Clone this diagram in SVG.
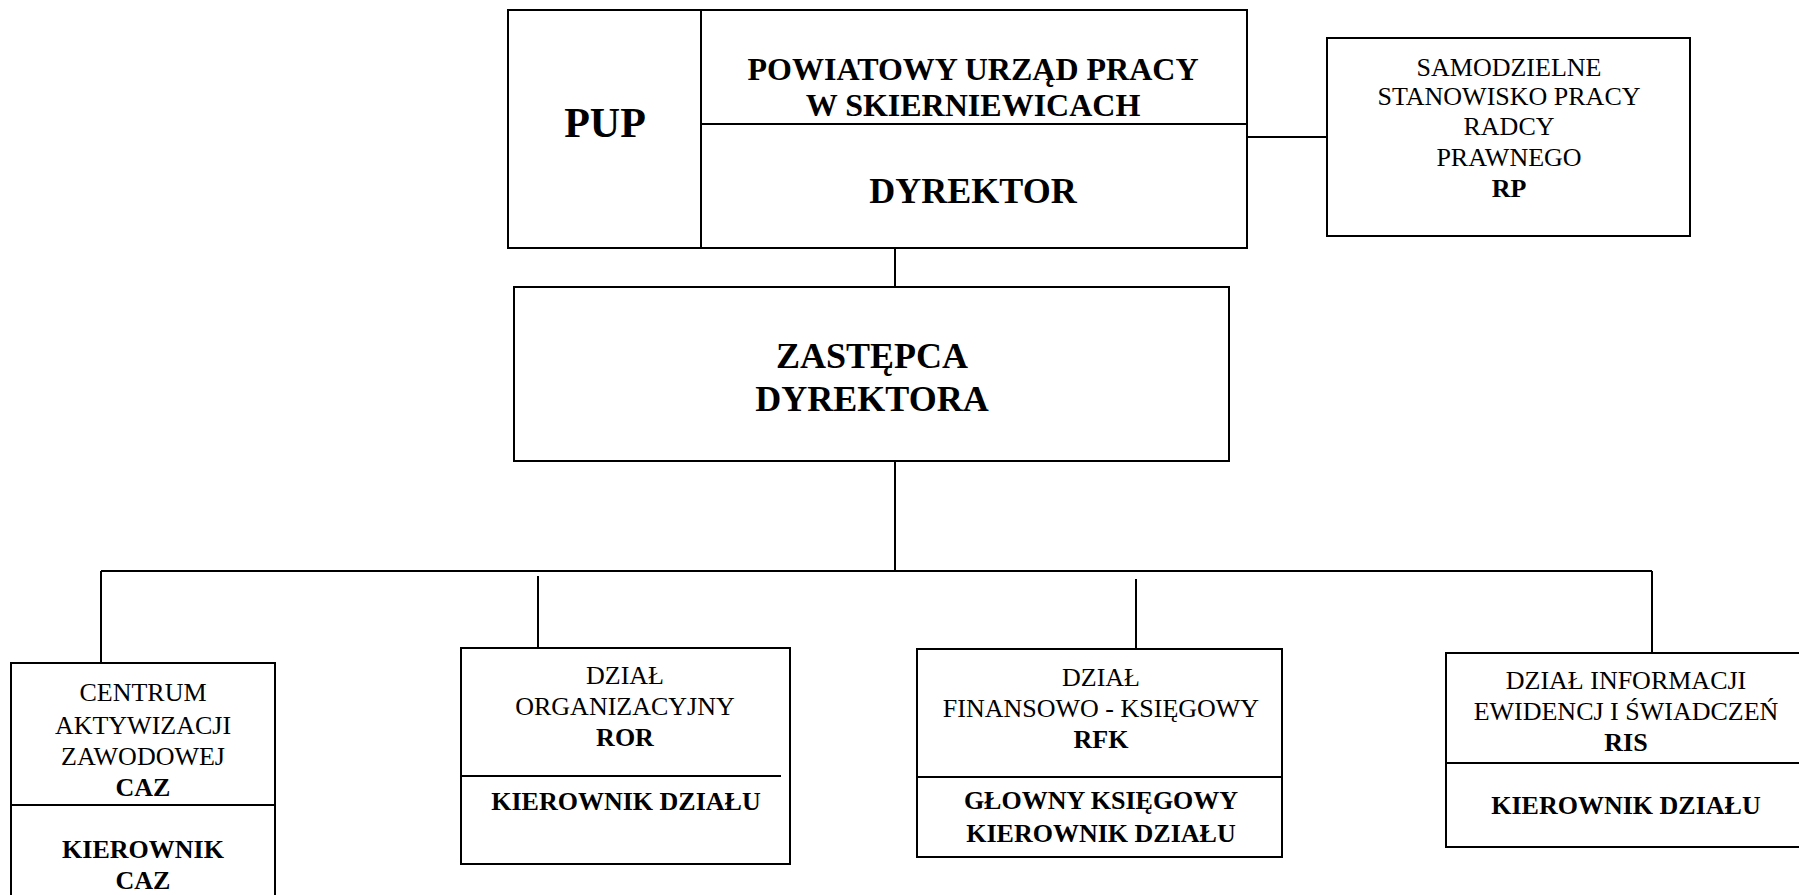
<svg xmlns="http://www.w3.org/2000/svg" width="1799" height="895" viewBox="0 0 1799 895">
<style>
.box{fill:#fff;stroke:#000;stroke-width:2}
.ln{fill:none;stroke:#000;stroke-width:2}
text{font-family:"Liberation Serif","Times New Roman",serif;fill:#000;text-anchor:middle}
.r{font-size:26px}
.b{font-size:26px;font-weight:bold}
.h{font-size:32px;font-weight:bold}
.d{font-size:36px;font-weight:bold}
</style>
<rect width="1799" height="895" fill="#fff"/>
<g id="connectors">
<line class="ln" x1="1247" y1="137" x2="1327" y2="137"/>
<line class="ln" x1="895" y1="248" x2="895" y2="287"/>
<line class="ln" x1="895" y1="461" x2="895" y2="571"/>
<line class="ln" x1="101" y1="571" x2="1652" y2="571"/>
<line class="ln" x1="101" y1="571" x2="101" y2="663"/>
<line class="ln" x1="538" y1="576" x2="538" y2="664"/>
<line class="ln" x1="1136" y1="579" x2="1136" y2="649"/>
<line class="ln" x1="1652" y1="571" x2="1652" y2="653"/>
</g>
<g id="pup">
<rect class="box" x="508" y="10" width="739" height="238"/>
<line class="ln" x1="701" y1="10" x2="701" y2="248"/>
<line class="ln" x1="701" y1="124" x2="1247" y2="124"/>
<text x="605" y="137" style="font-size:42px;font-weight:bold">PUP</text>
<text class="h" x="973" y="80">POWIATOWY URZĄD PRACY</text>
<text class="h" x="973" y="116">W SKIERNIEWICACH</text>
<text class="d" x="973" y="203">DYREKTOR</text>
</g>
<g id="rp">
<rect class="box" x="1327" y="38" width="363" height="198"/>
<text class="r" x="1509" y="76">SAMODZIELNE</text>
<text class="r" x="1509" y="105">STANOWISKO PRACY</text>
<text class="r" x="1509" y="135">RADCY</text>
<text class="r" x="1509" y="166">PRAWNEGO</text>
<text class="b" x="1509" y="197">RP</text>
</g>
<g id="zastepca">
<rect class="box" x="514" y="287" width="715" height="174"/>
<text class="d" x="872" y="368">ZASTĘPCA</text>
<text class="d" x="872" y="411">DYREKTORA</text>
</g>
<g id="caz">
<rect class="box" x="11" y="663" width="264" height="250"/>
<line class="ln" x1="11" y1="805" x2="275" y2="805"/>
<text class="r" x="143" y="701">CENTRUM</text>
<text class="r" x="143" y="734">AKTYWIZACJI</text>
<text class="r" x="143" y="765">ZAWODOWEJ</text>
<text class="b" x="143" y="796">CAZ</text>
<text class="b" x="143" y="858">KIEROWNIK</text>
<text class="b" x="143" y="889">CAZ</text>
</g>
<g id="ror">
<rect class="box" x="461" y="648" width="329" height="216"/>
<line class="ln" x1="461" y1="776" x2="781" y2="776"/>
<text class="r" x="625" y="684">DZIAŁ</text>
<text class="r" x="625" y="715">ORGANIZACYJNY</text>
<text class="b" x="625" y="746">ROR</text>
<text class="b" x="626" y="810">KIEROWNIK DZIAŁU</text>
</g>
<g id="rfk">
<rect class="box" x="917" y="649" width="365" height="208"/>
<line class="ln" x1="917" y1="777" x2="1282" y2="777"/>
<text class="r" x="1101" y="686">DZIAŁ</text>
<text class="r" x="1101" y="717">FINANSOWO - KSIĘGOWY</text>
<text class="b" x="1101" y="748">RFK</text>
<text class="b" x="1101" y="809">GŁOWNY KSIĘGOWY</text>
<text class="b" x="1101" y="842">KIEROWNIK DZIAŁU</text>
</g>
<g id="ris">
<rect class="box" x="1446" y="653" width="370" height="194"/>
<line class="ln" x1="1446" y1="763" x2="1799" y2="763"/>
<text class="r" x="1626" y="689">DZIAŁ INFORMACJI</text>
<text class="r" x="1626" y="720">EWIDENCJ I ŚWIADCZEŃ</text>
<text class="b" x="1626" y="751">RIS</text>
<text class="b" x="1626" y="814">KIEROWNIK DZIAŁU</text>
</g>
</svg>
